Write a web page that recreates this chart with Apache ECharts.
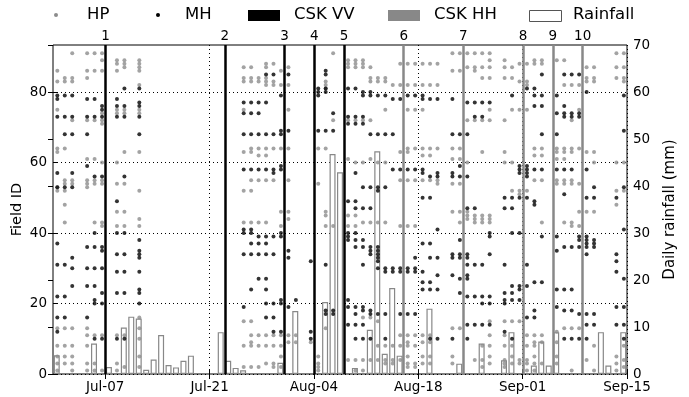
<!DOCTYPE html>
<html>
<head>
<meta charset="utf-8">
<script src="https://cdn.jsdelivr.net/npm/echarts@6/dist/echarts.min.js"></script>
<style>
  html, body { margin: 0; padding: 0; background: #fff; }
  #chart { width: 689px; height: 397px; }
</style>
</head>
<body>
<div id="chart"></div>
<script>
/* ---------- axis ticks (days since Jun-30) ---------- */
const dayTicks = [7, 21, 35, 49, 63, 77];
const dayTickLabels = ['Jul-07', 'Jul-21', 'Aug-04', 'Aug-18', 'Sep-01', 'Sep-15'];

/* ---------- CSK acquisitions ---------- */
const vvDays = [7, 23, 31, 35, 39];
const vvNames = ['1', '2', '3', '4', '5'];
const hhDays = [47, 55, 63, 67, 71];
const hhNames = ['6', '7', '8', '9', '10'];

/* ---------- daily rainfall (mm) ---------- */
const rainDays = [0, 5, 7, 9, 10, 11, 12, 13, 14, 15, 16, 17, 18, 22, 23, 24, 25, 30, 32, 36, 37, 38,
    40, 42, 43, 44, 45, 46, 50, 54, 57, 60, 61, 64, 65, 66, 67, 73, 74, 76];
const rainMm = [4.0, 6.5, 1.5, 9.9, 12.2, 11.8, 0.9, 3.1, 8.3, 1.9, 1.4, 2.8, 3.9, 8.9, 2.8, 1.3, 0.8, 2.4, 13.4, 15.3, 46.8, 42.9,
    1.3, 9.4, 47.4, 4.3, 18.3, 3.9, 13.9, 2.2, 6.5, 2.9, 8.9, 1.8, 6.9, 1.8, 8.9, 8.9, 1.8, 8.9];

/* ---------- field visits: [day, field IDs] ---------- */
const hpVisits = [
    [0, [86, 83, 75, 64, 63, 53, 52, 13, 8, 5, 3, 1]],
    [1, [84, 83, 64, 55, 54, 52, 48, 43, 13, 8, 5, 3]],
    [2, [91, 84, 83, 72, 55, 54, 13, 8, 5, 3, 1]],
    [4, [91, 86, 84, 72, 61, 55, 54, 53, 13, 11, 8, 3, 1]],
    [5, [91, 86, 72, 61, 55, 54, 43, 11, 3, 1]],
    [6, [91, 89, 86, 74, 72, 71, 60, 55, 54, 43, 42, 11, 1]],
    [8, [89, 88, 86, 75, 74, 60, 54, 46, 42, 11, 3, 1]],
    [9, [89, 88, 87, 75, 74, 63, 54, 46, 42, 11, 2]],
    [11, [89, 88, 87, 86, 82, 75, 74, 63, 52, 44, 42, 16, 13, 10, 5, 2]],
    [25, [87, 84, 83, 75, 63, 52, 43, 15, 8, 2]],
    [26, [87, 84, 83, 64, 63, 55, 52, 43, 15, 11, 9, 8, 2]],
    [27, [84, 83, 64, 62, 55, 43, 11, 8, 2]],
    [28, [88, 87, 84, 83, 82, 64, 62, 55, 43, 11, 8, 3]],
    [29, [88, 83, 82, 64, 55, 11, 8, 3, 2]],
    [30, [86, 82, 64, 46, 42, 11, 8, 5, 2]],
    [31, [87, 82, 75, 64, 55, 46, 44, 11, 9]],
    [32, [11, 9]],
    [34, [9]],
    [35, [64, 54, 5, 3, 2, 1]],
    [36, [83, 82, 81, 64, 46, 45, 42, 13]],
    [37, [91, 72, 42]],
    [39, [89, 88, 87, 72, 61, 45, 42, 4]],
    [40, [89, 88, 87, 72, 60, 45, 42, 4, 1]],
    [41, [89, 88, 87, 72, 60, 43, 16, 4, 1]],
    [42, [87, 84, 83, 72, 61, 43, 16, 4]],
    [43, [84, 83, 60, 43, 15, 8, 4]],
    [44, [84, 83, 75, 60, 43, 8, 4, 3]],
    [45, [82, 8, 4, 3]],
    [46, [88, 82, 63, 55, 42, 11, 8, 4]],
    [47, [88, 82, 75, 64, 63, 55, 42, 11, 9, 8, 5, 3, 2]],
    [48, [88, 82, 75, 64, 55, 42, 11, 8, 3, 2]],
    [49, [88, 82, 75, 64, 62, 55, 11, 9, 5, 3]],
    [50, [88, 82, 64, 62, 55, 11, 9, 5, 3]],
    [51, [88, 82, 64, 55, 54]],
    [53, [91, 86, 64, 61, 54, 46, 13, 5, 3]],
    [54, [91, 86, 64, 61, 54, 46, 43, 13]],
    [55, [91, 87, 72, 60, 46, 45, 44]],
    [56, [91, 87, 86, 72, 45, 44, 43, 4]],
    [57, [91, 87, 84, 72, 63, 45, 44, 43, 8, 4, 2]],
    [58, [91, 89, 87, 84, 75, 72, 45, 44, 43, 15, 11, 8, 5, 3]],
    [60, [89, 87, 84, 72, 63, 60, 15, 11, 8, 4, 3, 2]],
    [61, [87, 84, 75, 60, 52, 15, 8, 5, 3]],
    [62, [88, 83, 75, 52, 51, 15, 4, 3]],
    [63, [88, 83, 82, 75, 52, 11, 8, 4, 3, 1]],
    [64, [89, 88, 64, 62, 55, 11, 9, 8, 5, 3, 1]],
    [65, [89, 88, 64, 62, 55, 43, 11, 9, 3]],
    [67, [89, 64, 63, 61, 55, 54, 12, 9, 5, 3]],
    [68, [89, 82, 64, 63, 61, 55, 54, 43, 13]],
    [69, [82, 72, 64, 63, 55, 54, 43, 42, 13, 1]],
    [70, [82, 75, 64, 54, 46, 42, 13]],
    [71, [87, 84, 83, 63, 46, 4]],
    [72, [87, 84, 83, 63, 60, 46, 8, 1]],
    [75, [91, 87, 84, 60, 52, 48, 5, 3, 1]],
    [76, [91, 87, 84, 83, 60, 52, 8, 4, 2]]
];
const mhVisits = [
    [0, [79, 78, 73, 57, 53, 37, 31, 22, 16, 12]],
    [1, [79, 73, 68, 53, 31, 22, 16]],
    [2, [79, 73, 68, 57, 53, 33, 30, 25]],
    [4, [78, 73, 68, 59, 36, 30, 25, 16]],
    [5, [78, 73, 56, 40, 36, 30, 25, 21, 20, 10]],
    [6, [76, 75, 73, 56, 36, 35, 30, 23, 20, 10]],
    [8, [78, 76, 73, 49, 40, 34, 29, 23, 10]],
    [9, [81, 76, 73, 56, 40, 34, 29, 23, 10]],
    [11, [81, 77, 76, 73, 68, 38, 35, 34, 33, 29, 24, 23, 20]],
    [25, [77, 74, 68, 58, 41, 40, 34, 19]],
    [26, [77, 74, 68, 58, 41, 40, 37, 34, 24]],
    [27, [77, 74, 68, 58, 39, 37, 34, 27]],
    [28, [85, 77, 68, 58, 39, 37, 34, 27, 24, 20, 16]],
    [29, [85, 68, 58, 57, 39, 34, 20, 16, 12]],
    [30, [79, 69, 68, 59, 58, 40, 39, 21, 20, 12]],
    [31, [85, 69, 35, 33, 19]],
    [32, [21]],
    [34, [32, 12, 10]],
    [35, [81, 80, 79, 69]],
    [36, [86, 85, 81, 80, 69, 31, 18, 17]],
    [37, [74, 69, 18, 17]],
    [39, [81, 73, 71, 49, 40, 39, 38, 21, 19, 14]],
    [40, [81, 73, 71, 57, 49, 47, 40, 38, 36, 19, 17, 14, 10]],
    [41, [80, 79, 73, 71, 53, 47, 38, 36, 31, 19, 18, 14, 10]],
    [42, [80, 79, 68, 53, 47, 36, 35, 34, 18, 17, 10]],
    [43, [79, 68, 53, 52, 36, 35, 34, 33, 32, 30, 17]],
    [44, [79, 68, 53, 30, 29, 17, 10]],
    [45, [78, 68, 58, 30, 29]],
    [46, [78, 58, 30, 29, 17]],
    [47, [79, 58, 30, 29, 17]],
    [48, [79, 58, 33, 30, 29, 17]],
    [49, [79, 78, 58, 57, 50, 37, 29, 26, 24]],
    [50, [78, 56, 50, 37, 33, 26, 24, 10]],
    [51, [78, 57, 56, 41, 33, 28, 24, 10]],
    [53, [78, 68, 57, 56, 34, 33, 28, 10]],
    [54, [68, 59, 56, 38, 34, 33, 27, 23]],
    [55, [77, 68, 56, 47, 34, 33, 31, 28, 27, 22, 14, 10]],
    [56, [77, 73, 47, 31, 22, 14]],
    [57, [77, 73, 31, 22, 20, 14]],
    [58, [77, 40, 39, 34, 22, 20, 14]],
    [60, [50, 47, 31, 23, 21, 20, 12]],
    [61, [79, 50, 47, 40, 25, 23, 21, 10]],
    [62, [59, 58, 57, 50, 40, 25, 24, 21]],
    [63, [81, 59, 58, 57, 56, 50, 31, 25, 16]],
    [64, [81, 79, 76, 58, 49, 48, 26, 18, 16]],
    [65, [85, 79, 76, 68, 58, 39, 26]],
    [67, [79, 74, 68, 58, 39, 35, 24, 19]],
    [68, [85, 76, 74, 73, 58, 51, 36, 24, 18, 10]],
    [69, [85, 74, 73, 58, 36, 24, 18, 10]],
    [70, [85, 74, 73, 39, 38, 36, 17, 10]],
    [71, [80, 58, 50, 39, 38, 37, 36, 34, 17, 14, 10]],
    [72, [53, 50, 38, 37, 36, 17, 14]],
    [75, [50, 34, 32, 29, 19, 14]],
    [76, [79, 69, 53, 41, 27, 19, 14, 10]]
];

/* ---------- helpers ---------- */
const GRAY = '#888888';
const FONT = 'DejaVu Sans';
const visitPoints = list => list.flatMap(([d, ids]) => ids.map(id => [d + 0.58, id]));
const eventLines = (days, names) => days.map((d, i) => ({ xAxis: d + 0.05, name: names[i] }));
const dotted = { color: '#000', width: 1, type: [1, 3] };
const tickStyle = { show: true, inside: true, length: 5, lineStyle: { color: '#000' } };

const chart = echarts.init(document.getElementById('chart'), null, { renderer: 'canvas' });

const option = {
    animation: false,
    backgroundColor: '#fff',
    textStyle: { fontFamily: FONT },
    grid: {
        left: 53, top: 45, width: 574, height: 329,
        outerBoundsMode: 'none', containLabel: false,
        show: true, borderColor: '#000', borderWidth: 1, backgroundColor: 'transparent'
    },
    xAxis: [{
        type: 'value', min: 0, max: 77,
        axisLine: { show: false },
        axisTick: { ...tickStyle, customValues: dayTicks },
        axisLabel: {
            customValues: dayTicks, color: '#000', fontSize: 13.5, fontFamily: FONT, margin: 6,
            formatter: v => dayTickLabels[dayTicks.indexOf(v)] || ''
        },
        splitLine: { show: true, lineStyle: dotted }
    }, {
        type: 'value', min: 0, max: 77, position: 'top',
        axisLine: { show: false },
        axisTick: { ...tickStyle, customValues: dayTicks },
        axisLabel: { show: false },
        splitLine: { show: false }
    }],
    yAxis: [{
        type: 'value', min: 0, max: 280 / 3,
        name: 'Field ID', nameLocation: 'middle', nameGap: 28, nameMoveOverlap: false,
        nameTextStyle: { color: '#000', fontSize: 14.5, fontFamily: FONT },
        axisLine: { show: false },
        axisTick: { ...tickStyle, customValues: [0, 20, 40, 60, 80] },
        axisLabel: { customValues: [0, 20, 40, 60, 80], color: '#000', fontSize: 13.5, fontFamily: FONT, margin: 6 },
        splitLine: { show: true, lineStyle: dotted }
    }, {
        type: 'value', min: 0, max: 70, interval: 10, position: 'right',
        name: 'Daily rainfall (mm)', nameLocation: 'middle', nameGap: 36, nameRotate: 90,
        nameTextStyle: { color: '#000', fontSize: 15, fontFamily: FONT },
        axisLine: { show: false },
        axisTick: tickStyle,
        axisLabel: { color: '#000', fontSize: 13.5, fontFamily: FONT, margin: 6 },
        splitLine: { show: false }
    }],
    series: [{
        name: 'Rainfall', type: 'bar', yAxisIndex: 1, barWidth: 6, z: 1,
        itemStyle: { color: '#fff', borderColor: GRAY, borderWidth: 1.2 },
        data: rainDays.map((d, i) => [d + 0.5, rainMm[i]])
    }, {
        name: 'HP', type: 'scatter', symbolSize: 4, z: 3,
        itemStyle: { color: '#8c8c8c' },
        data: visitPoints(hpVisits)
    }, {
        name: 'MH', type: 'scatter', symbolSize: 4, z: 4,
        itemStyle: { color: '#000' },
        data: visitPoints(mhVisits)
    }, {
        name: 'CSK VV', type: 'scatter', data: [], z: 5,
        markLine: {
            silent: true, symbol: 'none', animation: false,
            lineStyle: { color: '#000', width: 2.5, type: 'solid' },
            label: { position: 'end', formatter: '{b}', color: '#000', fontSize: 13.5, fontFamily: FONT, distance: 2 },
            data: eventLines(vvDays, vvNames)
        }
    }, {
        name: 'CSK HH', type: 'scatter', data: [], z: 5,
        markLine: {
            silent: true, symbol: 'none', animation: false,
            lineStyle: { color: GRAY, width: 2.5, type: 'solid' },
            label: { position: 'end', formatter: '{b}', color: '#000', fontSize: 13.5, fontFamily: FONT, distance: 2 },
            data: eventLines(hhDays, hhNames)
        }
    }],
    graphic: [
        { type: 'circle', shape: { cx: 56, cy: 15, r: 2 }, style: { fill: '#8c8c8c' } },
        { type: 'text', x: 87, y: 15, style: { text: 'HP', fontSize: 16.5, fontFamily: FONT, fill: '#000', verticalAlign: 'middle' } },
        { type: 'circle', shape: { cx: 158, cy: 15, r: 2 }, style: { fill: '#000' } },
        { type: 'text', x: 185, y: 15, style: { text: 'MH', fontSize: 16.5, fontFamily: FONT, fill: '#000', verticalAlign: 'middle' } },
        { type: 'rect', shape: { x: 248, y: 10, width: 32, height: 11 }, style: { fill: '#000' } },
        { type: 'text', x: 294, y: 15, style: { text: 'CSK VV', fontSize: 16.5, fontFamily: FONT, fill: '#000', verticalAlign: 'middle' } },
        { type: 'rect', shape: { x: 388, y: 10, width: 32, height: 11 }, style: { fill: GRAY } },
        { type: 'text', x: 434, y: 15, style: { text: 'CSK HH', fontSize: 16.5, fontFamily: FONT, fill: '#000', verticalAlign: 'middle' } },
        { type: 'rect', shape: { x: 529.5, y: 10.5, width: 32, height: 11 }, style: { fill: '#fff', stroke: '#555', lineWidth: 1 } },
        { type: 'text', x: 573, y: 15, style: { text: 'Rainfall', fontSize: 16.5, fontFamily: FONT, fill: '#000', verticalAlign: 'middle' } }
    ]
};

chart.setOption(option);
window.addEventListener('resize', () => chart.resize());
</script>
</body>
</html>
